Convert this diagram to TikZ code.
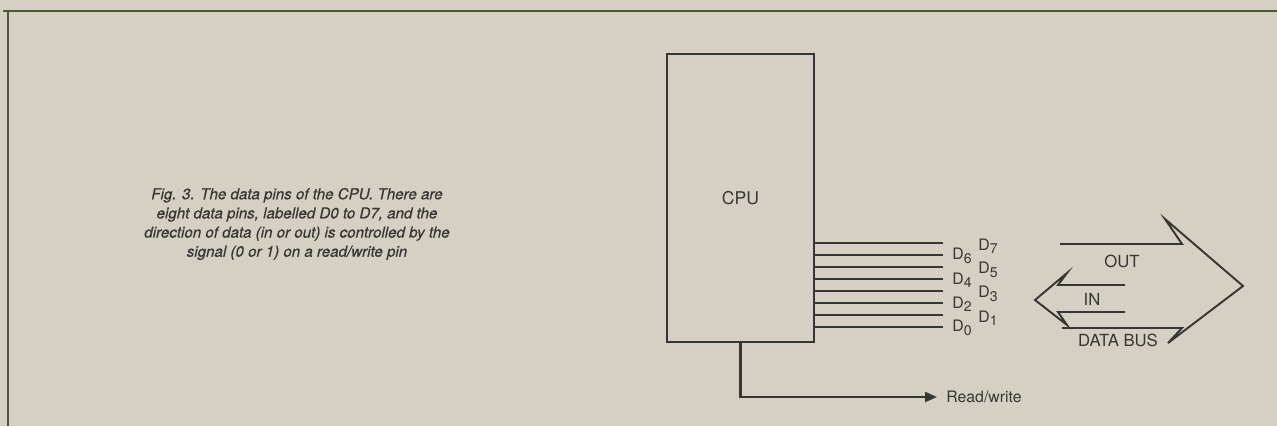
\documentclass[tikz,border=0pt]{standalone}
\usepackage{fontspec}
\setmainfont{TeX Gyre Heros}
\newfontfamily\capfont[FakeBold=0.6]{TeX Gyre Heros}
\usetikzlibrary{arrows.meta,positioning}

\definecolor{paper}{HTML}{D6D0C4}
\definecolor{ink}{HTML}{363634}
\definecolor{rule}{HTML}{4E5838}

\newcommand{\pinname}[1]{D\raisebox{-0.42ex}{\fontsize{8}{9}\selectfont #1}}

\tikzset{
  pinline/.style={ink,line width=1.3pt},
  buspath/.style={ink,line width=1.1pt,line join=miter},
  pinlabel/.style={anchor=west,inner sep=0pt,font=\fontsize{9}{11}\selectfont,text=ink},
  buslabel/.style={inner sep=0pt,font=\fontsize{9.5}{11}\selectfont,text=ink}
}

\begin{document}
\begin{tikzpicture}[x=0.2mm,y=-0.2mm,>={Triangle[length=2.4mm,width=2mm]}]

% paper and the open frame (top and left only)
\fill[paper] (0,0) rectangle (1277,426);
\useasboundingbox (0,0) rectangle (1277,426);
\draw[rule,line width=1.4pt] (3,11) -- (1277,11);
\draw[rule,line width=1.4pt] (8,11) -- (8,426);

% caption
\node[align=center,text=ink,font=\fontsize{8.6}{10.9}\selectfont\capfont\itshape]
  (caption) at (297,224)
  {Fig. 3. The data pins of the CPU. There are\\
   eight data pins, labelled D0 to D7, and the\\
   direction of data (in or out) is controlled by the\\
   signal (0 or 1) on a read/write pin};

% the processor
\node[draw=ink,line width=1.2pt,minimum width=147*0.2mm,minimum height=288*0.2mm,
      inner sep=0pt,font=\fontsize{10}{12}\selectfont,text=ink]
  (cpu) at (740.5,198) {CPU};

% eight data pins D0..D7
\foreach \i in {0,...,7}{
  \pgfmathsetmacro{\py}{327-12*\i}
  \coordinate (pin\i) at (943,\py);
  \draw[pinline] (cpu.east |- pin\i) -- (pin\i);
}
\foreach \i in {0,2,4,6}{
  \node[pinlabel] (lab\i) at ([xshift=9*0.2mm,yshift=-1*0.2mm]pin\i) {\pinname{\i}};
}
\foreach \i in {1,3,5,7}{
  \node[pinlabel] (lab\i) at ([xshift=35*0.2mm,yshift=-3*0.2mm]pin\i) {\pinname{\i}};
}

% read/write line
\node[pinlabel,font=\fontsize{9}{11}\selectfont] (rw) at (946,397) {Read/write};
\draw[pinline,->,shorten >=9*0.2mm] (cpu.south) |- (rw.west);

% data bus: OUT arrow
\draw[buspath] (1060,244) -- (1182,244) -- (1165,219) -- (1243,286)
  -- (1168,343) -- (1182,328) -- (1062,328);
% data bus: IN arrow
\draw[buspath] (1125,285) -- (1058,285) -- (1067,273) -- (1035,300)
  -- (1067,325) -- (1058,312) -- (1125,312);

\node[buslabel] (out) at (1122,261) {OUT};
\node[buslabel] (in)  at (1092,299) {IN};
\node[buslabel] (bus) at (1118,340) {DATA BUS};

\end{tikzpicture}
\end{document}
